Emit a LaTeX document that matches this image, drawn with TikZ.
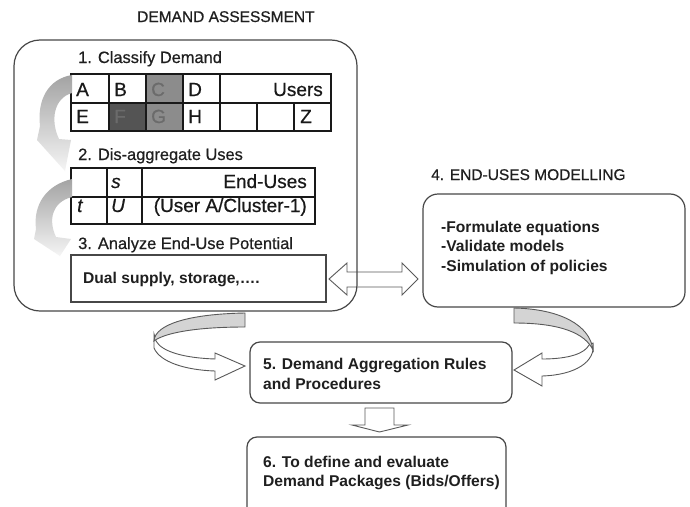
\documentclass[tikz,border=0pt]{standalone}
\usepackage{fontspec}
\setmainfont{Liberation Sans}
\newfontfamily\medfont[FakeBold=0.6]{Liberation Sans}
\begin{document}
\begin{tikzpicture}[x=1pt,y=-1pt,
  boxline/.style={draw=black!72, line width=1.2pt},
  rbox/.style={boxline, rectangle, inner sep=0pt},
  tbl/.style={draw=black!90, line width=1.4pt},
  head/.style={anchor=base west, inner sep=0pt, text=black!88, font=\medfont\fontsize{16.4}{19}\selectfont},
  ttl/.style={anchor=base west, inner sep=0pt, text=black!88, font=\medfont\fontsize{15.5}{19}\selectfont},
  btxt/.style={anchor=base west, inner sep=0pt, text=black!88, font=\bfseries\fontsize{15.6}{18}\selectfont},
  cell/.style={anchor=base west, inner sep=0pt, text=black!90, font=\medfont\fontsize{19}{22}\selectfont},
  cellr/.style={anchor=base east, inner sep=0pt, text=black!90, font=\medfont\fontsize{19}{22}\selectfont},
  blockarrow/.style={draw=black!65, line width=0.9pt, fill=white, line join=miter},
  ribbon/.style={draw=black!65, line width=0.9pt, fill=black!17},
]
\useasboundingbox (0,0) rectangle (690,506);
\clip (0,0) rectangle (690,506);
\fill[white] (0,0) rectangle (690,506);

% ---------- title
\node[ttl] (title) at (137,22) {DEMAND ASSESSMENT};

% ---------- double arrow between box 3 and box 4 (drawn under big box edge)
\coordinate (da1) at (329,279);
\coordinate (da2) at (418,279);
\draw[blockarrow] (da1) -- (347,263) -- (347,272) -- (402,272) -- (402,263) -- (da2)
  -- (402,295) -- (402,287) -- (347,287) -- (347,295) -- cycle;

% ---------- big box
\node[rbox, rounded corners=26pt, minimum width=343pt, minimum height=271pt] (big) at (185.5,175.5) {};

% ---------- step 1
\node[head] (h1) at (78,63) {1. Classify Demand};
\fill[black!45] (146,74) rectangle (183,103);
\fill[black!67] (109,103) rectangle (146,131);
\fill[black!45] (146,103) rectangle (183,131);
\draw[tbl] (71,74) rectangle (331,131);
\draw[tbl] (71,103) -- (331,103);
\foreach \x in {109,146,183,220} \draw[tbl] (\x,74) -- (\x,131);
\foreach \x in {257,294} \draw[tbl] (\x,103) -- (\x,131);
\node[cell] (cA) at (76,96) {A};
\node[cell] (cB) at (114,96) {B};
\node[cell, text=black!58] (cC) at (151,96) {C};
\node[cell] (cD) at (188,96) {D};
\node[cellr] (cU) at (323,96) {Users};
\node[cell] (cE) at (76,123) {E};
\node[cell, text=black!58] (cF) at (114,123) {F};
\node[cell, text=black!58] (cG) at (151,123) {G};
\node[cell] (cH) at (188,123) {H};
\node[cell] (cZ) at (300,123) {Z};

% ---------- step 2
\node[head] (h2) at (78,160) {2. Dis-aggregate Uses};
\draw[tbl] (71,168) rectangle (315,224);
\draw[tbl] (71,197) -- (315,197);
\draw[tbl] (107,168) -- (107,224);
\draw[tbl] (142,168) -- (142,224);
\node[cell] (cs) at (111,188) {\itshape s};
\node[cellr] (cEU) at (307,188) {End-Uses};
\node[cell] (ct) at (77,212) {\itshape t};
\node[cell] (cUU) at (111,212) {\itshape U};
\node[cellr] (cUser) at (307,212) {(User A/Cluster-1)};

% ---------- step 3
\node[head] (h3) at (78,249) {3. Analyze End-Use Potential};
\node[rbox, minimum width=255pt, minimum height=47pt] (b3) at (198.5,278.5) {};
\node[btxt] (t3) at (83,283) {Dual supply, storage,\dots.};

% ---------- curved grey arrows on the left
\shade[top color=black!36, bottom color=black!4]
  (72,75) .. controls (48,79) and (37,100) .. (40,126)
  -- (37,140) -- (65,171) -- (71,140) -- (59,139)
  .. controls (50,120) and (54,98) .. (72,93) -- cycle;
\shade[top color=black!36, bottom color=black!4]
  (72,179) .. controls (46,185) and (33,205) .. (36,229)
  -- (34,239) -- (60,256) -- (71,239) -- (56,237)
  .. controls (48,220) and (52,202) .. (72,197) -- cycle;

% ---------- step 4
\node[ttl] (h4) at (431,180) {4. END-USES MODELLING};
\node[rbox, rounded corners=15pt, minimum width=262pt, minimum height=113pt] (b4) at (554,250.5) {};
\node[btxt] (t4a) at (441,232) {-Formulate equations};
\node[btxt] (t4b) at (441,251) {-Validate models};
\node[btxt] (t4c) at (441,271) {-Simulation of policies};

% ---------- step 5
\node[rbox, rounded corners=10pt, minimum width=262pt, minimum height=61pt] (b5) at (381,372.5) {};
\node[btxt] (t5a) at (263,369) {5. Demand Aggregation Rules};
\node[btxt] (t5b) at (263,389) {and Procedures};

% ---------- step 6
\node[rbox, rounded corners=10pt, minimum width=259pt, minimum height=90pt] (b6) at (376.5,482) {};
\node[btxt] (t6a) at (263,467) {6. To define and evaluate};
\node[btxt] (t6b) at (263,486) {Demand Packages (Bids/Offers)};

% ---------- down arrow 5 -> 6
\draw[blockarrow] (365,408) -- (394,408) -- (394,425) -- (408,425) -- (379.5,432)
  -- (352,425) -- (365,425) -- cycle;

% ---------- ribbon arrow: big box -> box 5
\draw[blockarrow] (154,334) -- (154,348) .. controls (160,362) and (185,370) .. (215,371)
  -- (215,380) -- (245,366) -- (215,353) -- (215,359)
  .. controls (185,358) and (162,352) .. (156,341) -- cycle;
\draw[ribbon] (245,313) .. controls (190,314) and (155,324) .. (154,341)
  .. controls (166,332) and (200,327) .. (245,327) -- cycle;

% ---------- ribbon arrow: box 4 -> box 5
\draw[blockarrow] (593,343) .. controls (596,362) and (575,375) .. (542,376)
  -- (542,386) -- (514,370) -- (542,353) -- (542,359)
  .. controls (570,359) and (585,353) .. (589,345) -- cycle;
\draw[ribbon] (514,308) .. controls (560,309) and (590,325) .. (593,350)
  .. controls (585,333) and (560,323) .. (514,323) -- cycle;
\end{tikzpicture}
\end{document}
